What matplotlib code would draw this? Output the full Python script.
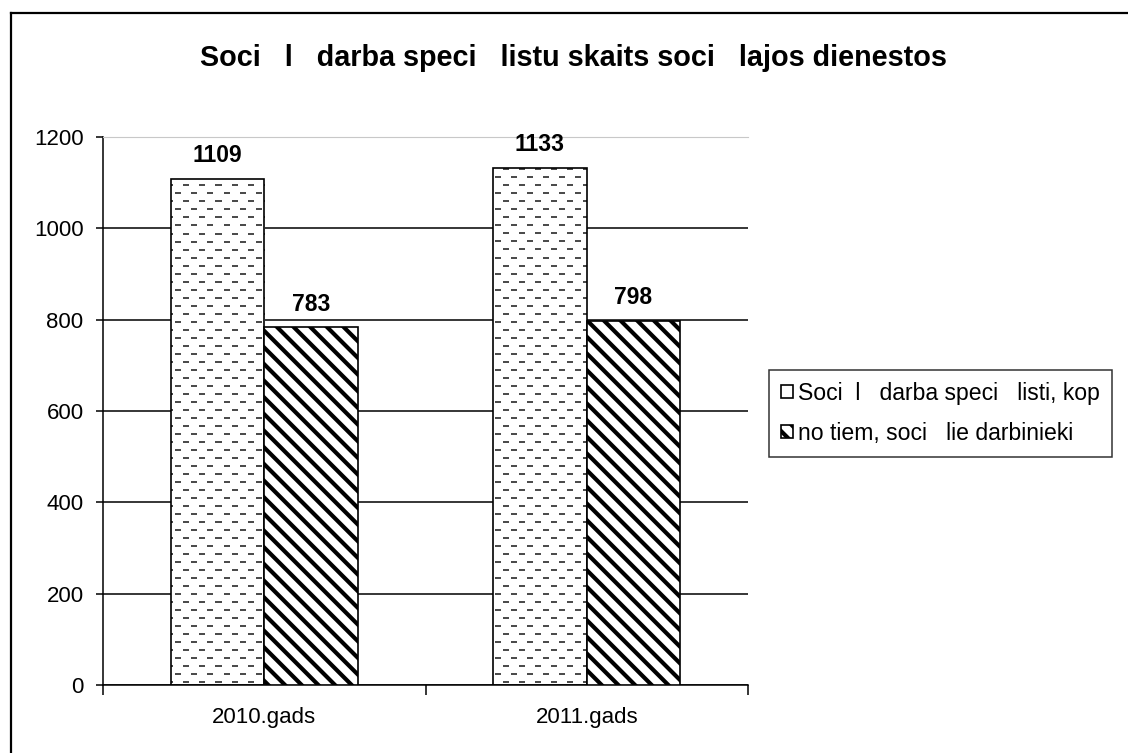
import matplotlib
matplotlib.use('Agg')
import matplotlib.pyplot as plt
import numpy as np
from matplotlib.lines import Line2D

plt.rcParams['font.family'] = ['Liberation Sans', 'DejaVu Sans']
plt.rcParams['hatch.linewidth'] = 3.0

title = 'Soci   l   darba speci   listu skaits soci   lajos dienestos'
years = ['2010.gads', '2011.gads']
series_names = ['Soci  l   darba speci   listi, kop', 'no tiem, soci   lie darbinieki']
total = [1109, 1133]
workers = [783, 798]

fig = plt.figure(figsize=(11.28, 7.53), dpi=100)
ax = fig.add_axes([103 / 1128, 68 / 753, 645 / 1128, 548 / 753])

ind = np.arange(len(years))
width = 0.29

# dashed texture for the first series (drawn as a clipped image)
W, H = 645, 548
tex = np.ones((H, W, 3))
for r in range(H):
    if r % 8 < 2:
        off = ((r // 8) % 2) * 8
        cols = (np.arange(W) + off) % 16 < 6
        tex[r, cols] = 0.3

p0 = ax.bar(ind - width / 2, total, width, facecolor='none', edgecolor='black',
            linewidth=1.2, zorder=3, label=series_names[0])
for bar in p0:
    im = ax.imshow(tex, extent=(-0.5, 1.5, 0, 1200), aspect='auto',
                   interpolation='nearest', zorder=2)
    im.set_clip_path(bar)

p1 = ax.bar(ind + width / 2, workers, width, facecolor='white', edgecolor='black',
            hatch='\\\\', linewidth=1.2, zorder=3, label=series_names[1])

for bars, vals in ((p0, total), (p1, workers)):
    for b, v in zip(bars, vals):
        ax.annotate(str(v), (b.get_x() + b.get_width() / 2, v), xytext=(0, 8),
                    textcoords='offset points', ha='center', va='bottom',
                    fontsize=16.5, fontweight='bold')

ax.set_xlim(-0.5, 1.5)
ax.set_ylim(0, 1200)
ax.set_yticks(np.arange(0, 1201, 200))
ax.tick_params(axis='y', labelsize=16, length=5, width=1.1, pad=9)
ax.set_xticks(ind)
ax.set_xticklabels(years)
ax.set_xticks([-0.5, 0.5, 1.5], minor=True)
ax.tick_params(axis='x', which='major', length=0, labelsize=16, pad=16)
ax.tick_params(axis='x', which='minor', length=7, width=1.1)

ax.yaxis.grid(True, color='black', linewidth=1.1)
ax.set_axisbelow(True)
ax.spines['right'].set_visible(False)
ax.spines['top'].set_color('#c8c8c8')
ax.spines['left'].set_linewidth(1.1)
ax.spines['bottom'].set_linewidth(1.1)

fig.text(573 / 1128, 1 - 58 / 753, title, ha='center', va='center',
         fontsize=20.7, fontweight='bold')

leg = fig.legend(handles=[p0, p1], loc='upper left',
                 bbox_to_anchor=(769 / 1128, 1 - 370 / 753), fontsize=16.6,
                 frameon=True, fancybox=False, edgecolor='black',
                 handlelength=0.5, handleheight=0.5, handletextpad=0.25,
                 labelspacing=0.72, borderpad=0.52, borderaxespad=0)
leg.get_frame().set_linewidth(1.1)

# outer chart border
fig.add_artist(Line2D([11 / 1128, 11 / 1128], [0, 1 - 13 / 753], transform=fig.transFigure,
                      color='black', linewidth=1.6))
fig.add_artist(Line2D([11 / 1128, 1], [1 - 13 / 753, 1 - 13 / 753], transform=fig.transFigure,
                      color='black', linewidth=1.6))

fig.savefig('out.png', dpi=100)
